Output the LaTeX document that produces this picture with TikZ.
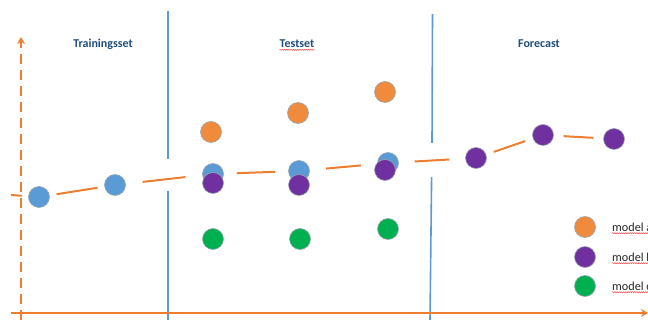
\documentclass[tikz,border=0pt]{standalone}
\usepackage{fontspec}
\setmainfont{Carlito}
\usetikzlibrary{arrows.meta,decorations.pathmorphing}
\definecolor{axisorange}{HTML}{ED7D31}
\definecolor{dotorange}{HTML}{F08A3C}
\definecolor{dotblue}{HTML}{5B9BD5}
\definecolor{dotpurple}{HTML}{7030A0}
\definecolor{dotgreen}{HTML}{00B050}
\definecolor{sepblue}{HTML}{5B9BD5}
\definecolor{titleblue}{HTML}{1F4E79}
\definecolor{ringgray}{HTML}{9AA6B2}
\begin{document}
\begin{tikzpicture}[x=1pt,y=-1pt,
  dot/.style={circle, minimum size=21pt, inner sep=0pt, draw=ringgray, line width=0.6pt},
  odot/.style={dot, fill=dotorange},
  bdot/.style={dot, fill=dotblue},
  pdot/.style={dot, fill=dotpurple},
  gdot/.style={dot, fill=dotgreen},
  trend/.style={draw=axisorange, line width=2pt},
  yaxis/.style={draw=axisorange, line width=2pt, dash pattern=on 10pt off 6pt, -{Stealth[length=7pt,width=8pt]}},
  xaxis/.style={draw=axisorange, line width=2pt, -{Stealth[length=7pt,width=8pt]}},
  sep/.style={draw=sepblue, line width=1.6pt},
  title/.style={font=\fontsize{12}{14}\selectfont\bfseries, text=titleblue, inner sep=0pt},
  legtext/.style={font=\fontsize{12.2}{14}\selectfont, text=black!85, inner sep=0pt, anchor=west},
  squiggle/.style={draw=red!80, line width=0.4pt, decorate, decoration={snake, amplitude=0.6pt, segment length=2.2pt}}
]
\clip (0,0) rectangle (648,320);

% separators
\coordinate (s1a) at (168,11);
\coordinate (s1b) at (168,159);
\coordinate (s1c) at (168,191);
\coordinate (s1d) at (168,320);
\coordinate (s2a) at (432.5,14);
\coordinate (s2b) at (432,143);
\coordinate (s2c) at (431.6,177);
\coordinate (s2d) at (430,320);
\draw[sep] (s1a) -- (s1b);
\draw[sep] (s1c) -- (s1d);
\draw[sep] (s2a) -- (s2b);
\draw[sep] (s2c) -- (s2d);

% axes
\coordinate (yb) at (21,320);
\coordinate (yt) at (21,37);
\coordinate (xl) at (11,313);
\coordinate (xr) at (648,313);
\draw[yaxis] (yb) -- (yt);
\draw[xaxis] (xl) -- (xr);

% titles
\node[title] (tTrain) at (103,44) {Trainingsset};
\node[title] (tTest) at (297,44) {Testset};
\node[title] (tFore) at (539,44) {Forecast};
\draw[squiggle] ([yshift=-2pt]tTest.base west) -- ([yshift=-2pt]tTest.base east);

% training
\node[bdot] (b1) at (39,197) {};
\node[bdot] (b2) at (115,185) {};

% test
\node[odot] (o1) at (211,132) {};
\node[odot] (o2) at (298,113) {};
\node[odot] (o3) at (385,92) {};
\node[bdot] (t1) at (213,174) {};
\node[bdot] (t2) at (299,171) {};
\node[bdot] (t3) at (388,163) {};
\node[pdot] (p1) at (213,183) {};
\node[pdot] (p2) at (299,185) {};
\node[pdot] (p3) at (385,170) {};
\node[gdot] (g1) at (213,239) {};
\node[gdot] (g2) at (300,239) {};
\node[gdot] (g3) at (388,229) {};

% forecast
\node[pdot] (f1) at (476,158) {};
\node[pdot] (f2) at (543,135) {};
\node[pdot] (f3) at (614,139) {};

% trend connectors
\coordinate (tl) at (11,195);
\draw[trend, shorten >=6.5pt] (tl) -- (b1);
\draw[trend, shorten <=7pt, shorten >=7pt] (b1) -- (b2);
\draw[trend, shorten <=17pt, shorten >=17pt] (b2) -- (t1);
\draw[trend, shorten <=13pt, shorten >=13pt] (t1) -- (t2);
\draw[trend, shorten <=16.5pt, shorten >=16.5pt] (t2) -- (t3);
\draw[trend, shorten <=16pt, shorten >=16pt] (t3) -- (f1);
\draw[trend, shorten <=8pt, shorten >=8pt] (f1) -- (f2);
\draw[trend, shorten <=9.8pt, shorten >=9.8pt] (f2) -- (f3);

% legend
\node[odot] (la) at (585,227) {};
\node[pdot] (lb) at (585,257) {};
\node[gdot] (lc) at (585,286) {};
\node[legtext] (ma) at (612,227) {model a};
\node[legtext] (mb) at (612,257) {model b};
\node[legtext] (mc) at (612,286) {model c};
\draw[squiggle] ([yshift=-2pt]ma.base west) -- ([yshift=-2pt]ma.base east);
\draw[squiggle] ([yshift=-2pt]mb.base west) -- ([yshift=-2pt]mb.base east);
\draw[squiggle] ([yshift=-2pt]mc.base west) -- ([yshift=-2pt]mc.base east);
\end{tikzpicture}
\end{document}
